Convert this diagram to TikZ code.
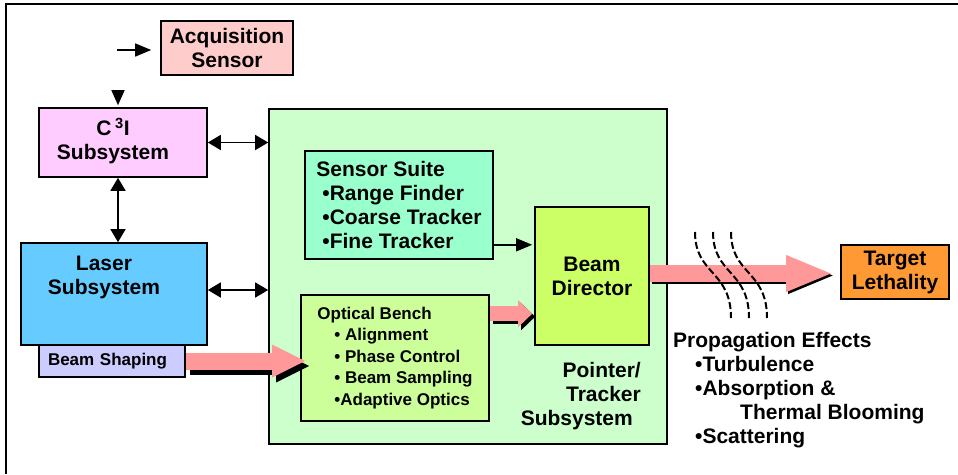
\documentclass[tikz,border=0pt]{standalone}
\usepackage{fontspec}
\setmainfont{Liberation Sans}
\usetikzlibrary{arrows.meta}

\definecolor{acqpink}{HTML}{FFCCCC}
\definecolor{cthreei}{HTML}{FFCCFF}
\definecolor{laserblue}{HTML}{66CCFF}
\definecolor{shapeblue}{HTML}{CCCCFF}
\definecolor{ptgreen}{HTML}{CCFFCC}
\definecolor{suitegreen}{HTML}{99FFCC}
\definecolor{benchgreen}{HTML}{CCFF99}
\definecolor{dirgreen}{HTML}{CCFF66}
\definecolor{targetorange}{HTML}{FF9933}
\definecolor{beampink}{HTML}{FF9999}

\newcommand{\bigtxt}{\fontsize{21}{24}\selectfont\bfseries}
\newcommand{\smalltxt}{\fontsize{17}{21.5}\selectfont\bfseries}

\tikzset{
  blk/.style={draw, line width=1.6pt, inner sep=0pt, font=\bigtxt, align=center},
  lbl/.style={inner sep=0pt, font=\bigtxt},
  link/.style={line width=1.4pt, {Triangle[length=13pt,width=15pt]}-{Triangle[length=13pt,width=15pt]}},
  feed/.style={line width=1.4pt, -{Triangle[length=16pt,width=13pt]}},
  beam/.style n args={3}{line width=#1, -{Triangle[length=#2,width=#3]}},
  wave/.style={line width=2pt, dash pattern=on 7pt off 3pt}
}

\begin{document}
\begin{tikzpicture}[x=1pt, y=-1pt]
\useasboundingbox (0,0) rectangle (958,474);

\draw[line width=2pt] (5.5,474) -- (5.5,4) -- (958,4);

\node[blk, fill=acqpink, minimum width=132, minimum height=54] (acq) at (227,48) {Acquisition\\Sensor};

\node[blk, fill=cthreei, minimum width=168, minimum height=69] (c3i) at (123,142.5) {};
\node[lbl, align=center] (c3itxt) at (113,141) {C\,\textsuperscript{3}I\\Subsystem};

\node[blk, fill=laserblue, minimum width=186, minimum height=102] (laser) at (114,294) {};
\node[lbl, align=center] (lasertxt) at (104,277.5) {Laser\\Subsystem};

\node[blk, fill=shapeblue, font=\smalltxt, align=left, text width=128pt, inner xsep=9pt, minimum height=32] (bs) at (112,361) {Beam Shaping};

\node[blk, fill=ptgreen, minimum width=398, minimum height=335] (pt) at (468,276.5) {};
\node[lbl, align=right, anchor=north east] (pttxt) at (641,362) {Pointer/\\Tracker\\Subsystem\hspace*{8pt}};

\node[blk, fill=suitegreen, align=left, minimum width=188, minimum height=108] (ss) at (399,205) {Sensor Suite\\\hspace*{6pt}•Range Finder\\\hspace*{6pt}•Coarse Tracker\\\hspace*{6pt}•Fine Tracker};

\node[blk, fill=benchgreen, font=\smalltxt, align=left, minimum width=188, minimum height=126] (ob) at (395,358) {Optical Bench\\\hspace*{17pt}• Alignment\\\hspace*{17pt}• Phase Control\\\hspace*{17pt}• Beam Sampling\\\hspace*{17pt}•Adaptive Optics};

\node[blk, fill=dirgreen, minimum width=114, minimum height=138] (bd) at (592,276) {Beam\\Director};

\node[blk, fill=targetorange, minimum width=108, minimum height=54] (tl) at (895,272) {Target\\Lethality};

\node[lbl, align=left, anchor=north west] (prop) at (673,332) {Propagation Effects\\\hspace*{22pt}•Turbulence\\\hspace*{22pt}•Absorption \&\\\hspace*{67pt}Thermal Blooming\\\hspace*{22pt}•Scattering};

\coordinate (acqin) at (117,50);
\draw[feed, shorten >=9pt] (acqin) -- (acqin -| acq.west);

\coordinate (c3iin) at (118,90);
\draw[line width=1.4pt, -{Triangle[length=15pt,width=13pt]}, shorten >=2pt] (c3iin) -- (c3iin |- c3i.north);

\draw[link] (c3i.east) -- (c3i.east -| pt.west);

\coordinate (c3idown) at ([xshift=-5pt]c3i.south);
\draw[link] (c3idown) -- (c3idown |- laser.north);

\coordinate (laserout) at ([yshift=4pt]laser.east);
\draw[link] (laserout) -- (laserout -| pt.west);

\coordinate (ssout) at ([yshift=15pt]ss.south east);
\draw[feed, shorten >=2pt] (ssout) -- (ssout -| bd.west);

\draw[beam={17pt}{34pt}{30pt}, black, shorten >=-6pt, transform canvas={xshift=4pt, yshift=-5pt}] (bs.east) -- (bs.east -| ob.west);
\draw[beam={17pt}{34pt}{30pt}, beampink, shorten >=-6pt] (bs.east) -- (bs.east -| ob.west);

\coordinate (obout) at ([yshift=-19.5pt]ob.north east);
\draw[beam={15pt}{14pt}{26pt}, black, shorten >=2pt, transform canvas={xshift=3pt, yshift=-3pt}] (obout) -- (obout -| bd.west);
\draw[beam={15pt}{14pt}{26pt}, beampink, shorten >=2pt] (obout) -- (obout -| bd.west);

\coordinate (bdout) at ([yshift=2.5pt]bd.east);
\draw[beam={17pt}{47pt}{33pt}, black, shorten >=7pt, transform canvas={xshift=2pt, yshift=-2pt}] (bdout) -- (bdout -| tl.west);
\draw[beam={17pt}{47pt}{33pt}, beampink, shorten >=7pt] (bdout) -- (bdout -| tl.west);

\draw[wave] (695,232) .. controls (695,275) and (731,270) .. (731,318);
\draw[wave] (713,232) .. controls (713,275) and (749,270) .. (749,318);
\draw[wave] (731,232) .. controls (731,275) and (767,270) .. (767,318);

\end{tikzpicture}
\end{document}
